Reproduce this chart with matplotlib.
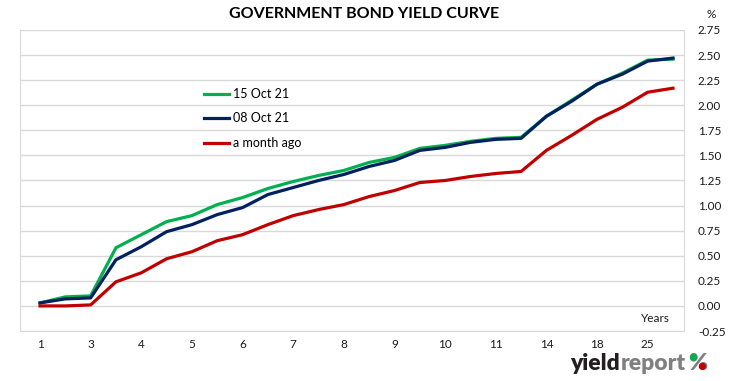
import matplotlib
matplotlib.use("Agg")
import matplotlib.pyplot as plt
from matplotlib.patches import Ellipse
import numpy as np

plt.rcParams['font.family'] = ['Lato', 'DejaVu Sans']

# tick labels (shown on every other category)
tick_labels = ["1", "3", "4", "5", "6", "7", "8", "9", "10", "11", "14", "18", "25"]
n_points = 26

oct15 = [0.03, 0.09, 0.10, 0.58, 0.71, 0.84, 0.90, 1.01, 1.08, 1.17, 1.24, 1.30, 1.35,
         1.43, 1.48, 1.57, 1.60, 1.64, 1.67, 1.68, 1.89, 2.05, 2.21, 2.32, 2.45, 2.46]
oct08 = [0.03, 0.07, 0.08, 0.46, 0.59, 0.74, 0.81, 0.91, 0.98, 1.11, 1.18, 1.25, 1.31,
         1.39, 1.45, 1.55, 1.58, 1.63, 1.66, 1.67, 1.89, 2.04, 2.21, 2.31, 2.44, 2.47]
month_ago = [0.00, 0.00, 0.01, 0.24, 0.33, 0.47, 0.54, 0.65, 0.71, 0.81, 0.90, 0.96, 1.01,
             1.09, 1.15, 1.23, 1.25, 1.29, 1.32, 1.34, 1.55, 1.70, 1.86, 1.98, 2.13, 2.17]
series_names = ["15 Oct 21", "08 Oct 21", "a month ago"]

W, H = 731, 381
fig = plt.figure(figsize=(W / 100, H / 100), dpi=100)
L, R, T, B = 20, 684, 30, 331
ax = fig.add_axes([L / W, 1 - B / H, (R - L) / W, (B - T) / H])

x = np.arange(n_points)
ax.plot(x, oct15, color="#00b050", lw=2.3, label=series_names[0], solid_joinstyle="round")
ax.plot(x, oct08, color="#002060", lw=2.3, label=series_names[1], solid_joinstyle="round")
ax.plot(x, month_ago, color="#c00000", lw=2.3, label=series_names[2], solid_joinstyle="round")

# x axis: first point at pixel 40, spacing ~25.3 px
step = (673 - 40) / 25
ax.set_xlim(-(40 - L) / step, (R - 40) / step)
ax.set_ylim(-0.25, 2.75)
ax.set_xticks(x[::2])
ax.set_xticklabels(tick_labels, fontsize=8.5, color="#1a1a1a")
ax.tick_params(axis='x', length=0, pad=6)

yt = np.arange(-0.25, 2.76, 0.25)
ax.set_yticks(yt)
ax.set_yticklabels([f"{v:.2f}" for v in yt], fontsize=8.5, color="#1a1a1a")
ax.yaxis.tick_right()
ax.tick_params(axis='y', length=0, pad=10)
ax.grid(axis='y', color="#d9d9d9", lw=1)
ax.set_axisbelow(True)
for s in ["left", "bottom", "right"]:
    ax.spines[s].set_color("#d9d9d9")
ax.spines["top"].set_visible(False)

ax.text((655 - L) / (R - L), (B - 319) / (B - T), "Years", transform=ax.transAxes,
        fontsize=8.5, ha="center", va="center", color="#1a1a1a")

leg = ax.legend(loc="upper left", bbox_to_anchor=((204 - L) / (R - L), (B - 88) / (B - T)),
                frameon=False, fontsize=9, handlelength=2.0, handletextpad=0.35,
                labelspacing=1.0, borderpad=0, borderaxespad=0)

fig.text(364 / W, 1 - 14 / H, "GOVERNMENT BOND YIELD CURVE", fontsize=11.5,
         fontweight="bold", ha="center", va="center", color="#000000")
fig.text(711 / W, 1 - 14 / H, "%", fontsize=8.5, ha="center", va="center", color="#1a1a1a")

# logo
fig.canvas.draw()
r = fig.canvas.get_renderer()
base_px = 370
ybase = 1 - base_px / H
fs = 16.5
t1 = fig.text(570 / W, ybase, "yield", fontsize=fs, fontweight="heavy",
              color="#231f20", ha="left", va="baseline")
bb = t1.get_window_extent(r)
t2 = fig.text((bb.x1 + 0.5) / W, ybase, "report", fontsize=fs, fontweight="heavy",
              color="#808080", ha="left", va="baseline")
bb2 = t2.get_window_extent(r)
t3 = fig.text((bb2.x1 + 3) / W, ybase, "%", fontsize=fs, fontweight="heavy",
              color="#808080", ha="left", va="baseline")
bb3 = t3.get_window_extent(r)
cw = bb3.width
cap = 0.72 * fs * 100 / 72
yb = H - base_px  # baseline in display coords (origin bottom)
d = 0.30 * cw
fig.patches.append(Ellipse(((bb3.x0 + 0.27 * cw) / W, (yb + 0.78 * cap) / H),
                           d / W, d / H, transform=fig.transFigure,
                           color="#00b050", zorder=5))
fig.patches.append(Ellipse(((bb3.x0 + 0.73 * cw) / W, (yb + 0.22 * cap) / H),
                           d / W, d / H, transform=fig.transFigure,
                           color="#c00000", zorder=5))

fig.savefig("out.png", dpi=100)
